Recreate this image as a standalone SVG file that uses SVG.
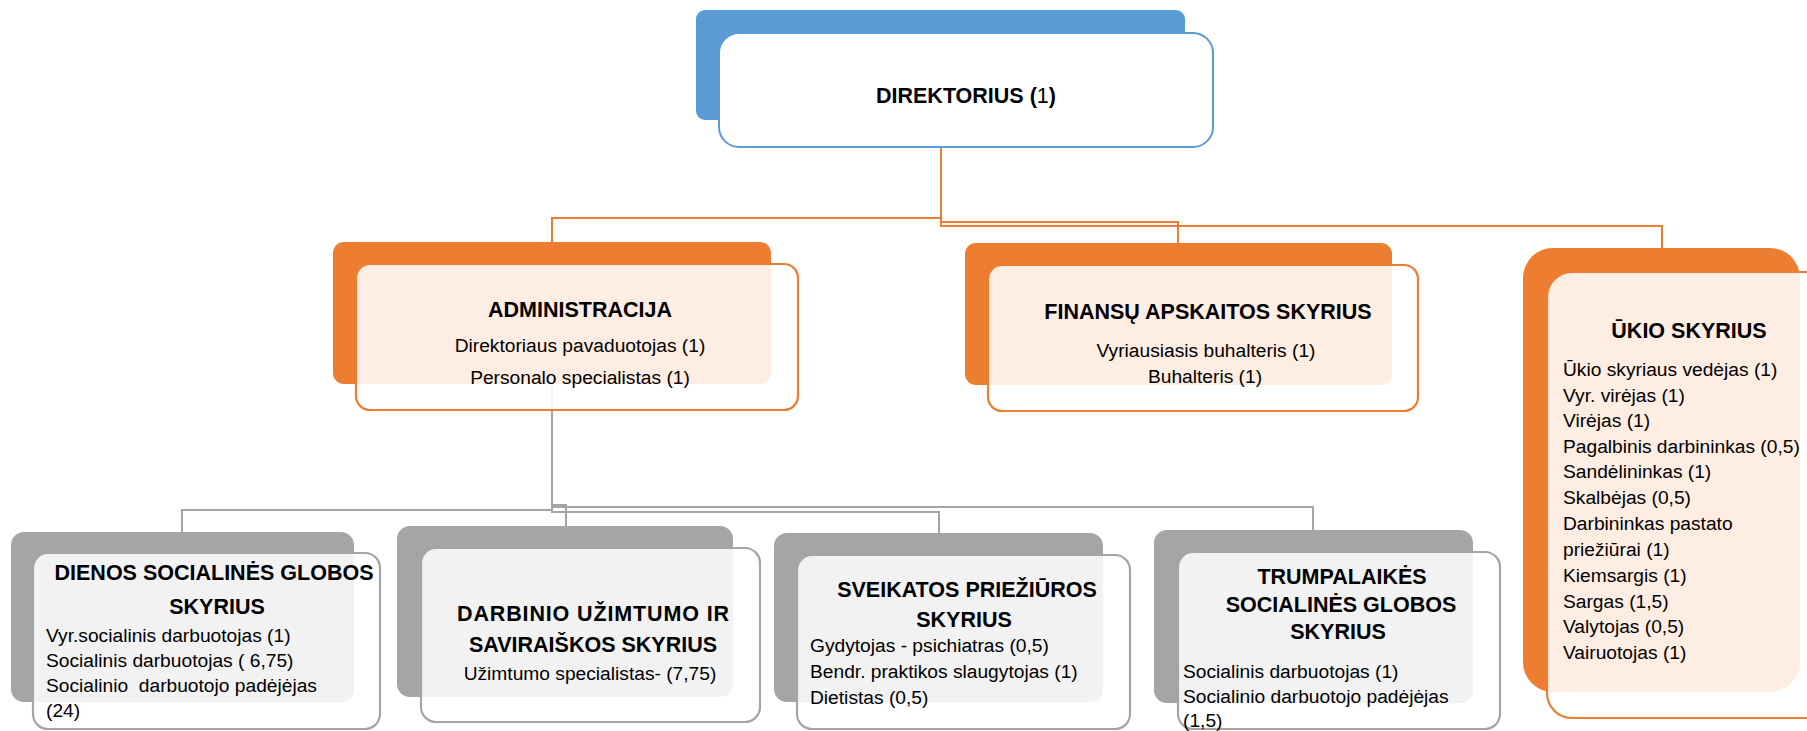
<svg xmlns="http://www.w3.org/2000/svg" width="1807" height="731" viewBox="0 0 1807 731">
<style>
  .bg { fill: #ffffff; }
  .blueBack { fill: #5B9BD5; }
  .blueFront { fill: #ffffff; stroke: #5B9BD5; stroke-width: 2; }
  .orangeBack { fill: #ED7D31; }
  .orangeFront { fill: #ffffff; fill-opacity: 0.86; stroke: #ED7D31; stroke-width: 2.2; }
  .grayBack { fill: #A5A5A5; }
  .grayFront { fill: #ffffff; fill-opacity: 0.86; stroke: #A5A5A5; stroke-width: 2.2; }
  .connO { fill: none; stroke: #ED7D31; stroke-width: 2; }
  .connG { fill: none; stroke: #A5A5A5; stroke-width: 2; }
  .title { font-family: "Liberation Sans", Arial, sans-serif; font-weight: bold; font-size: 21.5px; fill: #000000; }
  .body { font-family: "Liberation Sans", Arial, sans-serif; font-size: 19.2px; fill: #000000; }
  .c { text-anchor: middle; }
</style>
<rect class="bg" x="0" y="0" width="1807" height="731"/>

<g id="connectors">
  <path class="connO" d="M941 147 V218 H552 V242"/>
  <path class="connO" d="M941 147 V222 H1178 V243"/>
  <path class="connO" d="M941 147 V226 H1662 V248"/>
  <path class="connG" d="M552 384 V510 H182 V532"/>
  <path class="connG" d="M552 384 V505 H566 V526"/>
  <path class="connG" d="M552 384 V512 H939 V533"/>
  <path class="connG" d="M552 384 V507 H1313 V530"/>
</g>

<g id="direktorius">
  <rect class="blueBack" x="696" y="10" width="489" height="110" rx="9"/>
  <rect class="blueFront" x="719" y="33" width="494" height="114" rx="20"/>
  <text class="title c" x="966" y="103">DIREKTORIUS (<tspan font-weight="normal">1</tspan>)</text>
</g>

<g id="administracija">
  <rect class="orangeBack" x="333" y="242" width="438" height="142" rx="11"/>
  <rect class="orangeFront" x="356" y="264" width="442" height="146" rx="14"/>
  <text class="title c" x="580" y="317">ADMINISTRACIJA</text>
  <text class="body c" x="580" y="352">Direktoriaus pavaduotojas (1)</text>
  <text class="body c" x="580" y="384">Personalo specialistas (1)</text>
</g>

<g id="finansu">
  <rect class="orangeBack" x="965" y="243" width="427" height="142" rx="11"/>
  <rect class="orangeFront" x="988" y="265" width="430" height="146" rx="14"/>
  <text class="title c" x="1208" y="319">FINANSŲ APSKAITOS SKYRIUS</text>
  <text class="body c" x="1206" y="357">Vyriausiasis buhalteris (1)</text>
  <text class="body c" x="1205" y="383">Buhalteris (1)</text>
</g>

<g id="ukio">
  <rect class="orangeBack" x="1523" y="248" width="277" height="444" rx="30"/>
  <rect class="orangeFront" x="1547" y="272" width="290" height="446" rx="25"/>
  <text class="title c" x="1689" y="338">ŪKIO SKYRIUS</text>
  <text class="body" x="1563" y="376">Ūkio skyriaus vedėjas (1)</text>
  <text class="body" x="1563" y="402">Vyr. virėjas (1)</text>
  <text class="body" x="1563" y="427">Virėjas (1)</text>
  <text class="body" x="1563" y="453">Pagalbinis darbininkas (0,5)</text>
  <text class="body" x="1563" y="478">Sandėlininkas (1)</text>
  <text class="body" x="1563" y="504">Skalbėjas (0,5)</text>
  <text class="body" x="1563" y="530">Darbininkas pastato</text>
  <text class="body" x="1563" y="556">priežiūrai (1)</text>
  <text class="body" x="1563" y="582">Kiemsargis (1)</text>
  <text class="body" x="1563" y="608">Sargas (1,5)</text>
  <text class="body" x="1563" y="633">Valytojas (0,5)</text>
  <text class="body" x="1563" y="659">Vairuotojas (1)</text>
</g>

<g id="dienos">
  <rect class="grayBack" x="11" y="532" width="343" height="170" rx="13"/>
  <rect class="grayFront" x="33" y="553" width="347" height="176" rx="15"/>
  <text class="title c" x="214" y="580">DIENOS SOCIALINĖS GLOBOS</text>
  <text class="title c" x="217" y="614">SKYRIUS</text>
  <text class="body" x="46" y="642">Vyr.socialinis darbuotojas (1)</text>
  <text class="body" x="46" y="667">Socialinis darbuotojas ( 6,75)</text>
  <text class="body" x="46" y="692">Socialinio&#160; darbuotojo padėjėjas</text>
  <text class="body" x="46" y="717">(24)</text>
</g>

<g id="darbinio">
  <rect class="grayBack" x="397" y="526" width="336" height="171" rx="13"/>
  <rect class="grayFront" x="421" y="548" width="339" height="174" rx="15"/>
  <text class="title c" x="593" y="621" textLength="272" lengthAdjust="spacing">DARBINIO UŽIMTUMO IR</text>
  <text class="title c" x="593" y="652">SAVIRAIŠKOS SKYRIUS</text>
  <text class="body c" x="590" y="680">Užimtumo specialistas- (7,75)</text>
</g>

<g id="sveikatos">
  <rect class="grayBack" x="774" y="533" width="329" height="169" rx="13"/>
  <rect class="grayFront" x="797" y="555" width="333" height="174" rx="15"/>
  <text class="title c" x="967" y="597">SVEIKATOS PRIEŽIŪROS</text>
  <text class="title c" x="964" y="627">SKYRIUS</text>
  <text class="body" x="810" y="652">Gydytojas - psichiatras (0,5)</text>
  <text class="body" x="810" y="678">Bendr. praktikos slaugytojas (1)</text>
  <text class="body" x="810" y="704">Dietistas (0,5)</text>
</g>

<g id="trumpalaikes">
  <rect class="grayBack" x="1154" y="530" width="319" height="173" rx="13"/>
  <rect class="grayFront" x="1178" y="552" width="322" height="177" rx="15"/>
  <text class="title c" x="1342" y="584">TRUMPALAIKĖS</text>
  <text class="title c" x="1341" y="612">SOCIALINĖS GLOBOS</text>
  <text class="title c" x="1338" y="639">SKYRIUS</text>
  <text class="body" x="1183" y="678">Socialinis darbuotojas (1)</text>
  <text class="body" x="1183" y="703">Socialinio darbuotojo padėjėjas</text>
  <text class="body" x="1183" y="727">(1,5)</text>
</g>
</svg>
